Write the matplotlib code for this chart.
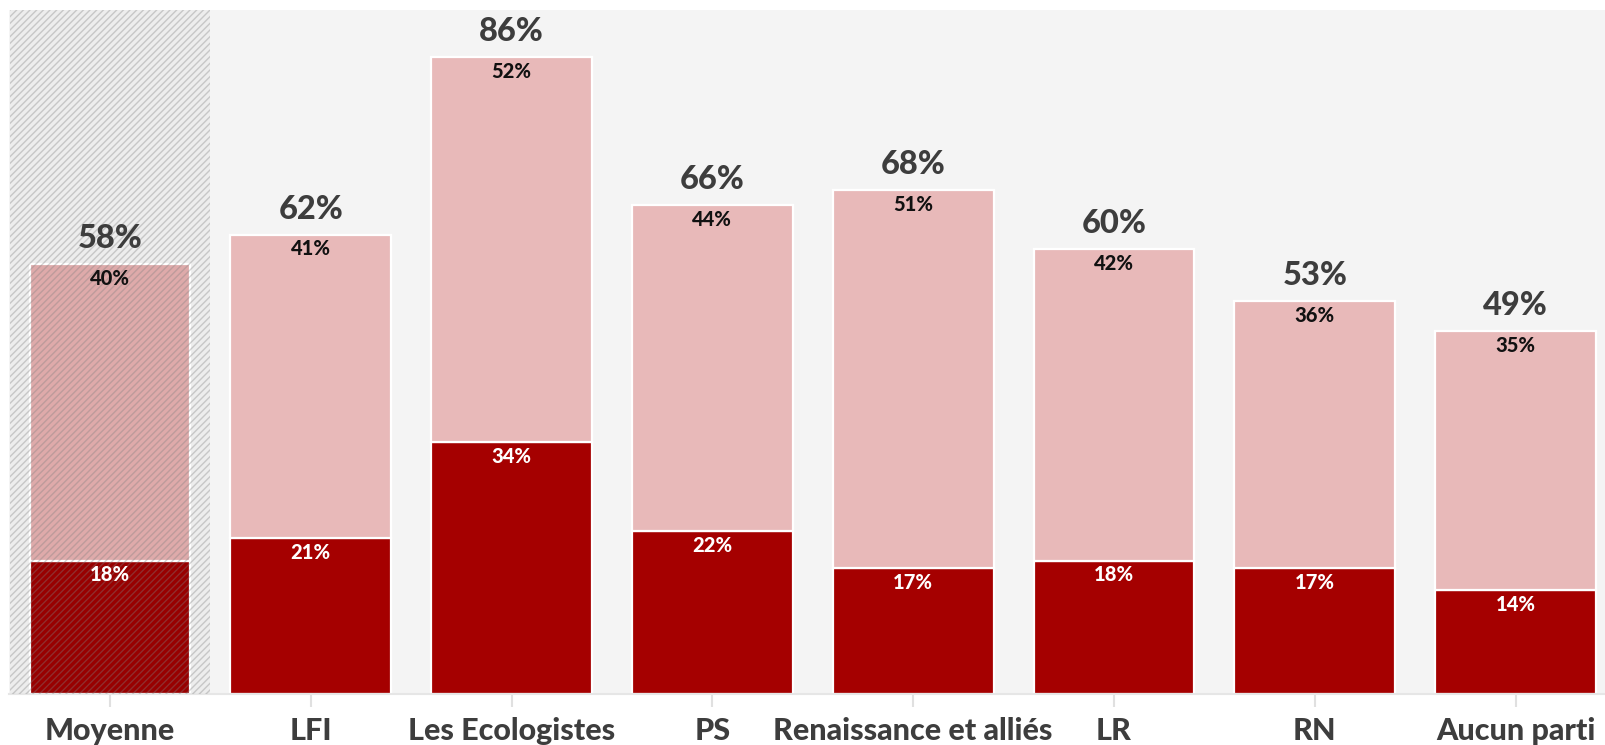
import matplotlib
matplotlib.use("Agg")
import matplotlib.pyplot as plt
import numpy as np

categories = ["Moyenne", "LFI", "Les Ecologistes", "PS", "Renaissance et alliés", "LR", "RN", "Aucun parti"]
dark_vals = [18, 21, 34, 22, 17, 18, 17, 14]
light_vals = [40, 41, 52, 44, 51, 42, 36, 35]

plt.rcParams['font.family'] = ['Lato', 'DejaVu Sans']
plt.rcParams['hatch.linewidth'] = 1.0

W, H = 1606, 745
fig = plt.figure(figsize=(W / 100, H / 100), dpi=100)
fig.patch.set_facecolor('white')
ax = fig.add_axes([9 / W, (H - 694) / H, (1606 - 9) / W, (694 - 10) / H])
ax.set_facecolor('#f4f4f4')

x = np.arange(len(categories))
dark_color = '#a50000'
light_color = '#e8b9b9'

dark_cols = ['#980000'] + [dark_color] * (len(categories) - 1)
light_cols = ['#deaaaa'] + [light_color] * (len(categories) - 1)

ax.bar(x, dark_vals, width=0.8, color=dark_cols, edgecolor='white', linewidth=1.6, zorder=2)
ax.bar(x, light_vals, bottom=dark_vals, width=0.8, color=light_cols, edgecolor='white', linewidth=1.6, zorder=2)

# hatched "Moyenne" region
ax.axvspan(-0.5, 0.5, facecolor=(0.88, 0.88, 0.88, 0.35), linewidth=0, zorder=1)
ax.axvspan(-0.5, 0.5, facecolor='none', edgecolor=(0.5, 0.5, 0.5, 0.35), hatch='/////', linewidth=0, zorder=3)

totals = [d + l for d, l in zip(dark_vals, light_vals)]
weight = 'black'
for xi, d, l, t in zip(x, dark_vals, light_vals, totals):
    ax.annotate(f"{t}%", (xi, t), xytext=(0, 11.5), textcoords='offset points',
                ha='center', va='baseline', fontsize=23.5, fontweight=weight, color='#3d3d3d', zorder=5)
    ax.annotate(f"{l}%", (xi, t), xytext=(0, -15), textcoords='offset points',
                ha='center', va='baseline', fontsize=14.5, fontweight=weight, color='#111111', zorder=5)
    ax.annotate(f"{d}%", (xi, d), xytext=(0, -15), textcoords='offset points',
                ha='center', va='baseline', fontsize=14.5, fontweight=weight, color='white', zorder=5)

ax.set_xlim(-0.5025, 7.45)
ax.set_ylim(0, 92.3)
ax.set_yticks([])
ax.set_xticks(x)
ax.set_xticklabels(categories, fontsize=22, fontweight=weight, color='#3d3d3d')
ax.tick_params(axis='x', length=9.5, width=1.5, color='#e0e0e0', pad=7)
for s in ['top', 'right', 'left']:
    ax.spines[s].set_visible(False)
ax.spines['bottom'].set_color('#e6e6e6')
ax.spines['bottom'].set_linewidth(1.5)

fig.savefig('out.png', dpi=100, facecolor='white')
